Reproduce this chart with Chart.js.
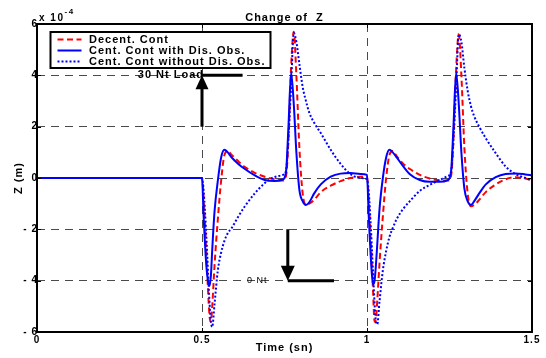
<!DOCTYPE html>
<html>
<head>
<meta charset="utf-8">
<script src="https://cdn.jsdelivr.net/npm/chart.js@4.4.0/dist/chart.umd.min.js"></script>
<style>
  html, body { margin: 0; padding: 0; background: #fff; }
  canvas { display: block; }
</style>
</head>
<body>
<canvas id="zChart" width="546" height="358"></canvas>
<script>
// Time (s), shared by all three series
const timeSec = [
    0,
    0.5, 0.505, 0.512, 0.518, 0.523, 0.527, 0.531, 0.538, 0.548, 0.558,
    0.568, 0.578, 0.59, 0.61, 0.63, 0.66, 0.69, 0.72, 0.745, 0.755,
    0.762, 0.77, 0.778, 0.786, 0.795, 0.805, 0.815, 0.825, 0.84, 0.86,
    0.89, 0.92, 0.95, 0.98,
    1.0, 1.005, 1.012, 1.018, 1.023, 1.027, 1.031, 1.038, 1.048, 1.058,
    1.068, 1.078, 1.09, 1.11, 1.13, 1.16, 1.19, 1.22, 1.245, 1.255,
    1.262, 1.27, 1.278, 1.286, 1.295, 1.305, 1.315, 1.325, 1.34, 1.36,
    1.39, 1.42, 1.45, 1.48,
    1.5
];

// Z displacement in units of 1e-4 m
const decentCont = [
    0,
    0, -0.8, -2.6, -4.3, -5.4, -5.6, -5.0, -3.4, -1.6, -0.1,
    0.9, 1.05, 0.9, 0.65, 0.43, 0.2, 0.05, -0.05, -0.1, 0.1,
    1.5, 4.3, 5.7, 4.0, 1.2, -0.6, -1.05, -1.0, -0.85, -0.55,
    -0.3, -0.12, 0.0, 0.05,
    0.05, -0.8, -2.6, -4.3, -5.6, -5.5, -4.8, -3.3, -1.5, 0.0,
    0.9, 1.05, 0.85, 0.55, 0.35, 0.12, -0.02, -0.09, -0.1, 0.1,
    1.5, 4.2, 5.6, 4.0, 1.2, -0.6, -1.1, -1.05, -0.85, -0.55,
    -0.25, -0.05, 0.03, -0.02,
    -0.08
];

const centContWithObs = [
    0,
    0, -1.5, -3.2, -4.0, -4.2, -3.8, -2.8, -1.3, -0.1, 0.8,
    1.1, 1.0, 0.8, 0.55, 0.35, 0.1, -0.08, -0.12, -0.06, 0.3,
    2.0, 4.1, 2.9, 1.0, -0.45, -0.9, -1.05, -0.95, -0.6, -0.25,
    0.05, 0.17, 0.19, 0.16,
    0.12, -1.4, -3.2, -4.15, -4.0, -3.4, -2.6, -1.2, 0.0, 0.8,
    1.1, 1.0, 0.8, 0.45, 0.15, -0.08, -0.15, -0.15, -0.08, 0.3,
    2.0, 4.1, 2.9, 1.0, -0.4, -0.9, -1.05, -0.9, -0.6, -0.25,
    0.03, 0.16, 0.18, 0.14,
    0.1
];

const centContWithoutObs = [
    0,
    0, -0.5, -2.0, -3.6, -4.9, -5.6, -5.8, -4.9, -3.6, -2.9,
    -2.45, -2.15, -1.95, -1.5, -1.1, -0.6, -0.2, 0.04, 0.12, 0.3,
    1.6, 3.6, 5.65, 5.3, 4.45, 3.55, 3.0, 2.55, 2.15, 1.75,
    1.1, 0.55, 0.15, 0.0,
    -0.05, -0.5, -2.0, -3.6, -4.9, -5.6, -5.7, -4.8, -3.6, -2.85,
    -2.3, -1.95, -1.6, -1.2, -0.9, -0.5, -0.27, -0.08, 0.08, 0.25,
    1.5, 3.5, 5.6, 5.3, 4.3, 3.4, 2.8, 2.4, 2.0, 1.55,
    0.97, 0.45, 0.15, 0.0,
    -0.1
];

const seriesLabels = ['Decent. Cont', 'Cent. Cont with Dis. Obs.', 'Cent. Cont without Dis. Obs.'];
const xTickValues = [0, 0.5, 1, 1.5];
const yTickValues = [-6, -4, -2, 0, 2, 4, 6];

const FONT = 'Liberation Sans, Arial, Helvetica, sans-serif';
const GRID_COLOR = '#4a4a4a';

const toPoints = values => timeSec.map((t, i) => ({ x: t, y: values[i] }));
const tickText = v => (v < 0 ? '- ' + Math.abs(v) : String(v));

// Frame, inward ticks, annotations, legend and texts (MATLAB look)
const matlabFrame = {
    id: 'matlabFrame',
    beforeDraw(chart) {
        chart.ctx.letterSpacing = '1px';
    },
    afterDraw(chart) {
        const { ctx, chartArea: a, scales: { x, y } } = chart;
        ctx.save();

        // axes box
        ctx.setLineDash([]);
        ctx.strokeStyle = '#000';
        ctx.lineWidth = 2;
        ctx.strokeRect(a.left, a.top, a.right - a.left, a.bottom - a.top);

        // inward tick marks
        ctx.lineWidth = 1;
        ctx.beginPath();
        xTickValues.forEach(v => {
            const px = Math.round(x.getPixelForValue(v)) + 0.5;
            ctx.moveTo(px, a.top); ctx.lineTo(px, a.top + 4);
            ctx.moveTo(px, a.bottom); ctx.lineTo(px, a.bottom - 4);
        });
        yTickValues.forEach(v => {
            const py = Math.round(y.getPixelForValue(v)) + 0.5;
            ctx.moveTo(a.left, py); ctx.lineTo(a.left + 4, py);
            ctx.moveTo(a.right, py); ctx.lineTo(a.right - 4, py);
        });
        ctx.stroke();

        // load annotations
        ctx.fillStyle = '#000';
        ctx.strokeStyle = '#000';
        ctx.lineWidth = 3;

        // 30 Nt load: up arrow at t = 0.5
        const upX = x.getPixelForValue(0.5);
        const upTip = y.getPixelForValue(4);
        ctx.beginPath();
        ctx.moveTo(upX, y.getPixelForValue(2));
        ctx.lineTo(upX, upTip + 12);
        ctx.moveTo(upX, upTip);
        ctx.lineTo(x.getPixelForValue(0.623), upTip);
        ctx.stroke();
        ctx.beginPath();
        ctx.moveTo(upX, upTip);
        ctx.lineTo(upX - 6.5, upTip + 14);
        ctx.lineTo(upX + 6.5, upTip + 14);
        ctx.closePath();
        ctx.fill();

        // 0 Nt: down arrow at t = 0.76
        const dnX = x.getPixelForValue(0.76);
        const dnTip = y.getPixelForValue(-4);
        ctx.beginPath();
        ctx.moveTo(dnX, y.getPixelForValue(-2));
        ctx.lineTo(dnX, dnTip - 12);
        ctx.moveTo(dnX, dnTip);
        ctx.lineTo(x.getPixelForValue(0.9), dnTip);
        ctx.stroke();
        ctx.beginPath();
        ctx.moveTo(dnX, dnTip);
        ctx.lineTo(dnX - 7, dnTip - 15);
        ctx.lineTo(dnX + 7, dnTip - 15);
        ctx.closePath();
        ctx.fill();

        ctx.textBaseline = 'middle';
        ctx.letterSpacing = '1px';
        ctx.font = 'bold 11px ' + FONT;
        ctx.textAlign = 'right';
        ctx.fillText('30 Nt Load', upX + 2, upTip);
        ctx.font = '9px ' + FONT;
        ctx.textAlign = 'left';
        ctx.fillText('0 Nt', x.getPixelForValue(0.636), dnTip);

        // legend
        const lx = a.left + 13.5, ly = a.top + 8, lw = 220, lh = 36;
        ctx.fillStyle = '#fff';
        ctx.fillRect(lx, ly, lw, lh);
        ctx.strokeStyle = '#000';
        ctx.lineWidth = 2;
        ctx.strokeRect(lx, ly, lw, lh);
        ctx.font = 'bold 11px ' + FONT;
        chart.data.datasets.forEach((ds, i) => {
            const rowY = ly + 7.5 + i * 11;
            ctx.beginPath();
            ctx.setLineDash(ds.borderDash || []);
            ctx.strokeStyle = ds.borderColor;
            ctx.lineWidth = ds.borderWidth;
            ctx.moveTo(lx + 7, rowY);
            ctx.lineTo(lx + 31, rowY);
            ctx.stroke();
            ctx.setLineDash([]);
            ctx.fillStyle = '#000';
            ctx.textAlign = 'left';
            ctx.textBaseline = 'middle';
            ctx.fillText(ds.label, lx + 38.5, rowY + 0.5);
        });

        // title, axis labels, exponent
        ctx.fillStyle = '#000';
        ctx.font = 'bold 11px ' + FONT;
        ctx.textAlign = 'center';
        ctx.textBaseline = 'alphabetic';
        ctx.fillText('Change of  Z', (a.left + a.right) / 2, 21);
        ctx.textBaseline = 'middle';
        ctx.fillText('Time (sn)', (a.left + a.right) / 2, 348);

        ctx.textAlign = 'left';
        ctx.textBaseline = 'alphabetic';
        ctx.font = 'bold 10px ' + FONT;
        ctx.letterSpacing = '1.5px';
        ctx.fillText('x 10', a.left + 2, 21);
        const expX = a.left + 2 + ctx.measureText('x 10').width;
        ctx.font = 'bold 8px ' + FONT;
        ctx.fillText('-4', expX, 14);

        ctx.font = 'bold 11px ' + FONT;
        ctx.letterSpacing = '1px';
        ctx.translate(19, (a.top + a.bottom) / 2);
        ctx.rotate(-Math.PI / 2);
        ctx.textAlign = 'center';
        ctx.textBaseline = 'middle';
        ctx.fillText('Z (m)', 0, 0);

        ctx.restore();
    }
};

const tickFont = { family: FONT, size: 10, weight: 'bold' };

new Chart(document.getElementById('zChart'), {
    type: 'line',
    data: {
        datasets: [
            { label: seriesLabels[0], data: toPoints(decentCont), borderColor: '#ff0000', borderWidth: 2, borderDash: [6, 3.5], order: 3 },
            { label: seriesLabels[1], data: toPoints(centContWithObs), borderColor: '#0000ff', borderWidth: 2, order: 2 },
            { label: seriesLabels[2], data: toPoints(centContWithoutObs), borderColor: '#0000ff', borderWidth: 2, borderDash: [2, 2], order: 1 }
        ]
    },
    options: {
        responsive: false,
        animation: false,
        events: [],
        devicePixelRatio: 1,
        layout: { padding: { left: 0, top: 24, right: 14, bottom: 0 }, autoPadding: false },
        elements: {
            point: { radius: 0 },
            line: { cubicInterpolationMode: 'monotone', fill: false }
        },
        plugins: {
            legend: { display: false },
            tooltip: { enabled: false },
            title: { display: false }
        },
        scales: {
            x: {
                type: 'linear',
                min: 0,
                max: 1.5,
                afterBuildTicks: axis => { axis.ticks = xTickValues.map(v => ({ value: v })); },
                afterFit: axis => { axis.height = 26; },
                grid: { color: GRID_COLOR, lineWidth: 1, drawTicks: false },
                border: { display: false, dash: [8, 6] },
                ticks: { padding: 2, color: '#000', font: tickFont, maxRotation: 0, callback: tickText }
            },
            y: {
                type: 'linear',
                min: -6,
                max: 6,
                afterBuildTicks: axis => { axis.ticks = yTickValues.map(v => ({ value: v })); },
                afterFit: axis => { axis.width = 37; },
                grid: { color: GRID_COLOR, lineWidth: 1, drawTicks: false },
                border: { display: false, dash: [8, 6] },
                ticks: { padding: -1, color: '#000', font: tickFont, callback: tickText }
            }
        }
    },
    plugins: [matlabFrame]
});
</script>
</body>
</html>
